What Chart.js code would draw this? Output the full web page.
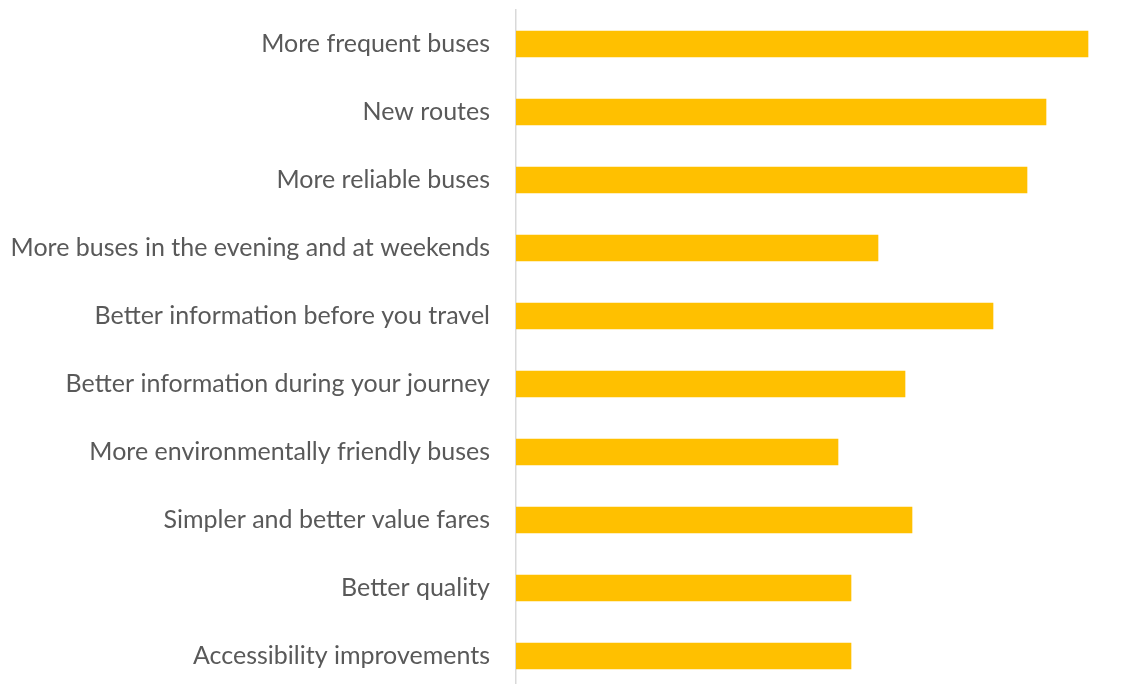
<!DOCTYPE html>
<html>
<head>
<meta charset="utf-8">
<script src="https://cdn.jsdelivr.net/npm/chart.js@4"></script>
<style>
  html, body { margin: 0; padding: 0; background: #fff; overflow: hidden; }
  #wrap { width: 1144px; height: 694px; }
</style>
</head>
<body>
<div id="wrap"><canvas id="busChart" width="1144" height="694"></canvas></div>
<script>
// improvements people asked for
const categories = [
    'More frequent buses',
    'New routes',
    'More reliable buses',
    'More buses in the evening and at weekends',
    'Better information before you travel',
    'Better information during your journey',
    'More environmentally friendly buses',
    'Simpler and better value fares',
    'Better quality',
    'Accessibility improvements'
];
const responses = [57.2, 53.0, 51.1, 36.2, 47.7, 38.9, 32.2, 39.6, 33.5, 33.5];

var ctx = document.getElementById('busChart').getContext('2d');
var busChart = new Chart(ctx, {
    type: 'bar',
    data: {
        labels: categories,
        datasets: [{
            data: responses,
            backgroundColor: '#FFC000',
            barThickness: 26
        }]
    },
    options: {
        indexAxis: 'y',
        responsive: false,
        animation: false,
        layout: { padding: { top: 10, bottom: 4, right: 28, left: 0 } },
        plugins: {
            legend: { display: false },
            tooltip: { enabled: false }
        },
        scales: {
            x: { display: false, min: 0, max: 60 },
            y: {
                grid: { display: false },
                border: { display: true, color: '#D9D9D9', width: 1.5 },
                ticks: {
                    color: '#595959',
                    padding: 18,
                    font: { family: 'Lato', size: 25 }
                },
                afterFit: function (scale) {
                    scale.width = 516; // keep bars starting at the same spot
                    scale.paddingTop = 0;
                    scale.paddingBottom = 0;
                }
            }
        }
    }
});
</script>
</body>
</html>
